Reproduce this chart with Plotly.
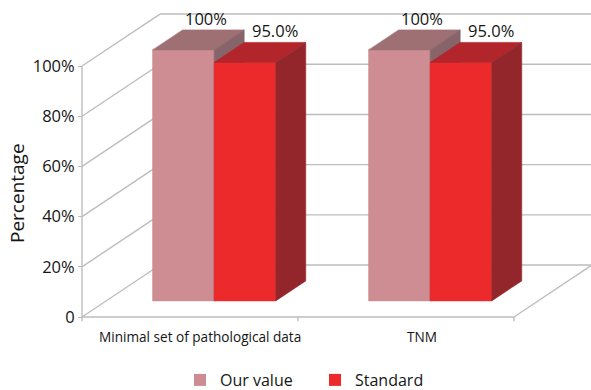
import plotly.graph_objects as go

# ---- data ----
categories = ["Minimal set of pathological data", "TNM"]
series_names = ["Our value", "Standard"]
our_value = [100, 100]
standard = [95, 95]
label_formats = ["{:.0f}%", "{:.1f}%"]
y_ticks = [0, 20, 40, 60, 80, 100]
y_tick_labels = ["0", "20%", "40%", "60%", "80%", "100%"]

# ---- styling ----
front_colors = ["#CD8D92", "#EC2A2B"]
top_colors = ["#9E6F73", "#B2252B"]
side_colors = ["#86646A", "#93262B"]
grid_color = "#BDBDBD"
text_color = "#151515"
font_family = "Open Sans"

# oblique projection: one unit of depth moves a point right/up by (DX, DY)
DX, DY = 0.361, 20.7
FRONT = 0.31      # depth of the bars' front faces
BAR_DEPTH = 0.385 # depth thickness of the bars
BAR_W = 0.285     # width of each bar (category spacing = 1)
X0, X1 = -0.5, len(categories) - 0.5
label_xshift = [-7, 0]
category_xshift = [10, 16]

W, H = 591, 390
PLOT_H = 330      # plot area height (bottom margin 60)
xa = X0 - 82 / 216
xb = xa + W / 216
ya, yb = -5.18, 126.3

fig = go.Figure()


def line(xs, ys, width=1.4):
    fig.add_trace(go.Scatter(x=xs, y=ys, mode="lines", showlegend=False,
                             hoverinfo="skip",
                             line=dict(color=grid_color, width=width)))


def poly(xs, ys, color):
    fig.add_trace(go.Scatter(x=xs + [xs[0]], y=ys + [ys[0]], mode="lines",
                             fill="toself", fillcolor=color, showlegend=False,
                             hoverinfo="skip",
                             line=dict(color=color, width=0.6)))


# back wall gridlines and left wall diagonals
for v in y_ticks:
    line([X0 + DX, X1 + DX], [v + DY, v + DY])
    line([X0, X0 + DX], [v, v + DY])
# floor edges
line([X0, X1], [0, 0])
line([X1, X1 + DX], [0, DY])
# left axis
line([X0, X0], [0, 100])
# category boundary ticks on the floor edge
for k in range(len(categories) + 1):
    line([X0 + k, X0 + k], [0, -1.6])

# bars, drawn back-to-front so nearer faces cover farther ones
series_values = [our_value, standard]
annotations = []
for i, cat in enumerate(categories):
    for s, vals in enumerate(series_values):
        v = vals[i]
        xl = i - BAR_W + s * BAR_W + FRONT * DX
        xr = xl + BAR_W
        yb0 = FRONT * DY
        yt = yb0 + v
        ddx, ddy = BAR_DEPTH * DX, BAR_DEPTH * DY
        poly([xl, xr, xr, xl], [yb0, yb0, yt, yt], front_colors[s])
        poly([xl, xl + ddx, xr + ddx, xr], [yt, yt + ddy, yt + ddy, yt],
             top_colors[s])
        poly([xr, xr, xr + ddx, xr + ddx], [yb0, yt, yt + ddy, yb0 + ddy],
             side_colors[s])
        annotations.append(dict(
            x=(xl + xr) / 2 + ddx, y=yt + ddy, xref="x", yref="y",
            text=label_formats[s].format(v), showarrow=False,
            yanchor="bottom", yshift=-2, xshift=label_xshift[s],
            font=dict(family=font_family, size=16.5, color=text_color)))

# category labels under the floor edge
for i, cat in enumerate(categories):
    annotations.append(dict(
        x=i, y=0, xref="x", yref="y", text=cat, showarrow=False,
        yanchor="middle", yshift=-19, xshift=category_xshift[i],
        font=dict(family=font_family, size=13.6, color=text_color)))

# axis title
annotations.append(dict(
    x=17 / W, y=1 - 193 / PLOT_H, xref="paper", yref="paper",
    text="Percentage", xanchor="center", yanchor="middle",
    textangle=-90, showarrow=False,
    font=dict(family=font_family, size=19, color=text_color)))

# legend entries
for s, name in enumerate(series_names):
    fig.add_trace(go.Bar(x=[None], y=[None], name=name,
                         marker=dict(color=front_colors[s], line_width=0)))

fig.update_layout(
    width=W, height=H,
    margin=dict(l=0, r=0, t=0, b=H - PLOT_H),
    paper_bgcolor="white", plot_bgcolor="white",
    showlegend=True,
    legend=dict(orientation="h", x=180 / W, xanchor="left",
                y=1 - 380 / H, yanchor="middle", yref="container",
                traceorder="normal",
                font=dict(family=font_family, size=16, color=text_color),
                entrywidth=90, entrywidthmode="pixels"),
    xaxis=dict(range=[xa, xb], visible=False, fixedrange=True),
    yaxis=dict(range=[ya, yb], anchor="free", position=82 / W,
               showgrid=False, zeroline=False, showline=False,
               tickvals=y_ticks, ticktext=y_tick_labels,
               ticks="outside", ticklen=4, tickcolor=grid_color,
               tickfont=dict(family=font_family, size=16.5, color=text_color),
               fixedrange=True),
    annotations=annotations,
)

fig.write_html("out.html")
